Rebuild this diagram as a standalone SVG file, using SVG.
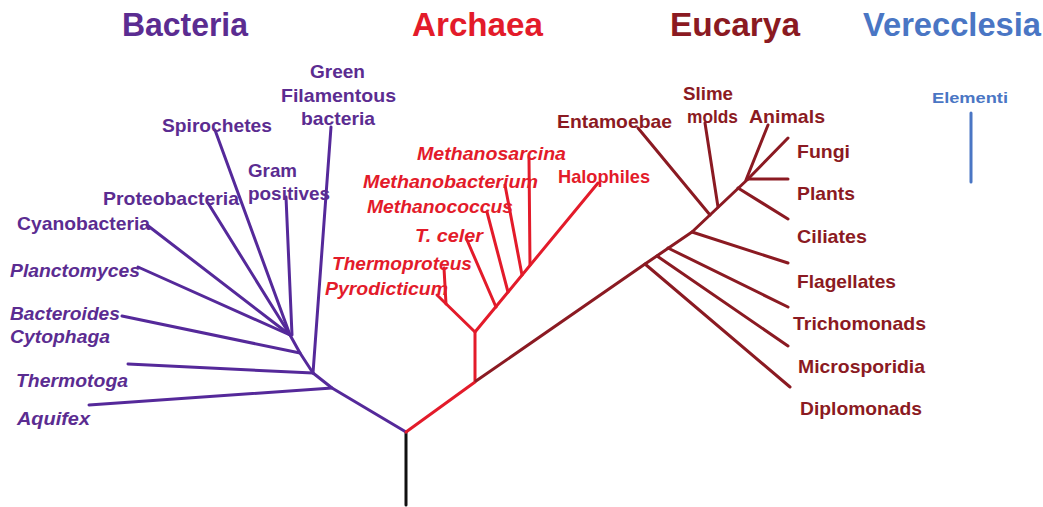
<svg xmlns="http://www.w3.org/2000/svg" width="1043" height="507" viewBox="0 0 1043 507">
<style>
text{font-family:"Liberation Sans",Arial,sans-serif;font-weight:bold}
.title{font-size:33px}
.lab{font-size:19px}
.it{font-style:italic}
.bac{fill:#5b2c91}
.arc{fill:#e31b2a}
.euc{fill:#8b1a22}
.ver{fill:#4a76c4}
.lb{stroke:#55299a}
.la{stroke:#e31b2a}
.le{stroke:#8b1a22}
.lk{stroke:#111}
.lv{stroke:#4a76c4}
line,polyline{fill:none;stroke-width:3;stroke-linecap:round;stroke-linejoin:round}
</style>
<rect width="1043" height="507" fill="#fff"/>
<g id="titles">
<text id="t-bacteria" class="title bac" x="122" y="36" textLength="126" lengthAdjust="spacingAndGlyphs">Bacteria</text>
<text id="t-archaea" class="title arc" x="412" y="36" textLength="131" lengthAdjust="spacingAndGlyphs">Archaea</text>
<text id="t-eucarya" class="title euc" x="670" y="36" textLength="130" lengthAdjust="spacingAndGlyphs">Eucarya</text>
<text id="t-verecclesia" class="title ver" x="863" y="36" textLength="178" lengthAdjust="spacingAndGlyphs">Verecclesia</text>
</g>
<g id="connectors">
<line class="lk" x1="406" y1="432" x2="406" y2="505"/>
<polyline class="lb" points="406,432 332,388 313,373 300,353 290,335"/>
<line class="lb" x1="332" y1="388" x2="89" y2="405"/>
<line class="lb" x1="313" y1="373" x2="128" y2="364"/>
<line class="lb" x1="313" y1="373" x2="331" y2="127"/>
<line class="lb" x1="300" y1="353" x2="122" y2="316"/>
<line class="lb" x1="290" y1="335" x2="138" y2="267"/>
<line class="lb" x1="290" y1="335" x2="147" y2="225"/>
<line class="lb" x1="290" y1="335" x2="208" y2="203"/>
<line class="lb" x1="290" y1="335" x2="215" y2="130"/>
<line class="lb" x1="292" y1="335" x2="286" y2="197"/>
<polyline class="la" points="406,432 475,382 475,332 437,295"/>
<line class="la" x1="446" y1="304" x2="444" y2="268"/>
<line class="la" x1="475" y1="332" x2="598" y2="183"/>
<line class="la" x1="496" y1="307" x2="467" y2="240"/>
<line class="la" x1="508" y1="292" x2="487" y2="212"/>
<line class="la" x1="522" y1="275" x2="505" y2="185"/>
<line class="la" x1="530" y1="265" x2="529" y2="158"/>
<polyline class="le" points="476,381 645,264 692,232 748,179"/>
<line class="le" x1="645" y1="264" x2="790" y2="387"/>
<line class="le" x1="657" y1="256" x2="788" y2="346"/>
<line class="le" x1="668" y1="248" x2="788" y2="307"/>
<line class="le" x1="692" y1="232" x2="788" y2="263"/>
<line class="le" x1="710" y1="215" x2="638" y2="128"/>
<line class="le" x1="718" y1="207" x2="705" y2="123"/>
<line class="le" x1="738" y1="188" x2="788" y2="219"/>
<line class="le" x1="748" y1="179" x2="788" y2="179"/>
<line class="le" x1="748" y1="179" x2="788" y2="138"/>
<line class="le" x1="746" y1="180" x2="768" y2="125"/>
<line class="lv" x1="971" y1="113" x2="971" y2="182"/>
</g>
<g id="bacteria-labels">
<g id="n-green"><text class="lab bac" x="310" y="78" textLength="55" lengthAdjust="spacingAndGlyphs">Green</text><text class="lab bac" x="281" y="102" textLength="115" lengthAdjust="spacingAndGlyphs">Filamentous</text><text class="lab bac" x="301" y="125" textLength="74" lengthAdjust="spacingAndGlyphs">bacteria</text></g>
<g id="n-spirochetes"><text class="lab bac" x="162" y="132" textLength="110" lengthAdjust="spacingAndGlyphs">Spirochetes</text></g>
<g id="n-gram"><text class="lab bac" x="248" y="177" textLength="49" lengthAdjust="spacingAndGlyphs">Gram</text><text class="lab bac" x="248" y="200" textLength="82" lengthAdjust="spacingAndGlyphs">positives</text></g>
<g id="n-proteobacteria"><text class="lab bac" x="103" y="205" textLength="136" lengthAdjust="spacingAndGlyphs">Proteobacteria</text></g>
<g id="n-cyanobacteria"><text class="lab bac" x="17" y="230" textLength="133" lengthAdjust="spacingAndGlyphs">Cyanobacteria</text></g>
<g id="n-planctomyces"><text class="lab bac it" x="10" y="277" textLength="130" lengthAdjust="spacingAndGlyphs">Planctomyces</text></g>
<g id="n-bacteroides"><text class="lab bac it" x="10" y="320" textLength="110" lengthAdjust="spacingAndGlyphs">Bacteroides</text><text class="lab bac it" x="10" y="343" textLength="100" lengthAdjust="spacingAndGlyphs">Cytophaga</text></g>
<g id="n-thermotoga"><text class="lab bac it" x="16" y="387" textLength="112" lengthAdjust="spacingAndGlyphs">Thermotoga</text></g>
<g id="n-aquifex"><text class="lab bac it" x="17" y="425" textLength="73" lengthAdjust="spacingAndGlyphs">Aquifex</text></g>
</g>
<g id="archaea-labels">
<g id="n-methanosarcina"><text class="lab arc it" x="417" y="160" textLength="149" lengthAdjust="spacingAndGlyphs">Methanosarcina</text></g>
<g id="n-methanobacterium"><text class="lab arc it" x="363" y="188" textLength="175" lengthAdjust="spacingAndGlyphs">Methanobacterium</text></g>
<g id="n-methanococcus"><text class="lab arc it" x="367" y="213" textLength="146" lengthAdjust="spacingAndGlyphs">Methanococcus</text></g>
<g id="n-tceler"><text class="lab arc it" x="415" y="242" textLength="68" lengthAdjust="spacingAndGlyphs">T. celer</text></g>
<g id="n-thermoproteus"><text class="lab arc it" x="332" y="270" textLength="140" lengthAdjust="spacingAndGlyphs">Thermoproteus</text></g>
<g id="n-pyrodicticum"><text class="lab arc it" x="325" y="295" textLength="123" lengthAdjust="spacingAndGlyphs">Pyrodicticum</text></g>
<g id="n-halophiles"><text class="lab arc" x="558" y="183" textLength="92" lengthAdjust="spacingAndGlyphs">Halophiles</text></g>
</g>
<g id="eucarya-labels">
<g id="n-entamoebae"><text class="lab euc" x="557" y="128" textLength="115" lengthAdjust="spacingAndGlyphs">Entamoebae</text></g>
<g id="n-slime"><text class="lab euc" x="683" y="100" textLength="50" lengthAdjust="spacingAndGlyphs">Slime</text><text class="lab euc" x="687" y="123" textLength="51" lengthAdjust="spacingAndGlyphs">molds</text></g>
<g id="n-animals"><text class="lab euc" x="749" y="123" textLength="76" lengthAdjust="spacingAndGlyphs">Animals</text></g>
<g id="n-fungi"><text class="lab euc" x="797" y="158" textLength="53" lengthAdjust="spacingAndGlyphs">Fungi</text></g>
<g id="n-plants"><text class="lab euc" x="797" y="200" textLength="58" lengthAdjust="spacingAndGlyphs">Plants</text></g>
<g id="n-ciliates"><text class="lab euc" x="797" y="243" textLength="70" lengthAdjust="spacingAndGlyphs">Ciliates</text></g>
<g id="n-flagellates"><text class="lab euc" x="797" y="288" textLength="99" lengthAdjust="spacingAndGlyphs">Flagellates</text></g>
<g id="n-trichomonads"><text class="lab euc" x="793" y="330" textLength="133" lengthAdjust="spacingAndGlyphs">Trichomonads</text></g>
<g id="n-microsporidia"><text class="lab euc" x="798" y="373" textLength="127" lengthAdjust="spacingAndGlyphs">Microsporidia</text></g>
<g id="n-diplomonads"><text class="lab euc" x="800" y="415" textLength="122" lengthAdjust="spacingAndGlyphs">Diplomonads</text></g>
</g>
<g id="verecclesia-labels">
<g id="n-elementi"><text class="ver" x="932" y="103" style="font-size:15px" textLength="76" lengthAdjust="spacingAndGlyphs">Elementi</text></g>
</g>
</svg>
